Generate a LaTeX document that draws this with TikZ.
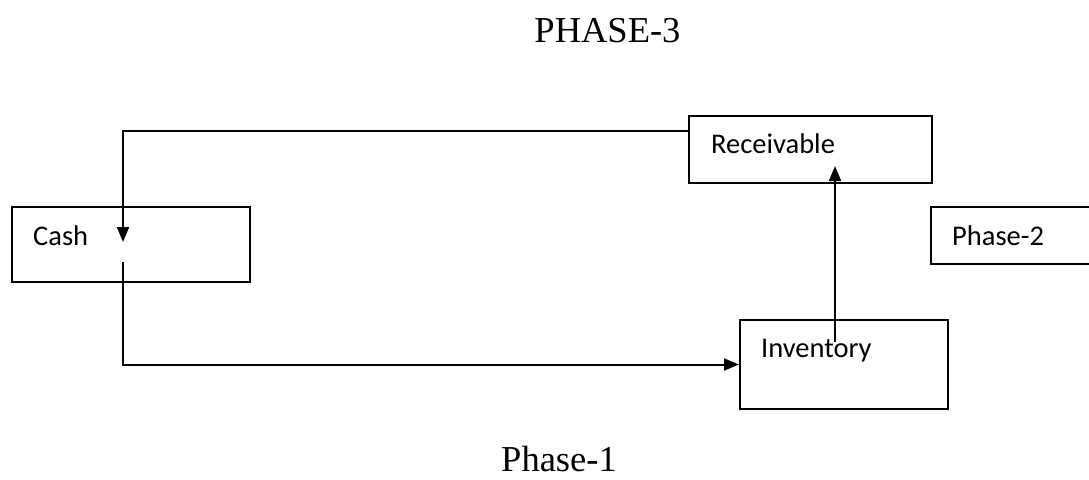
\documentclass[tikz,border=0pt]{standalone}
\usepackage{fontspec}
\setmainfont{Liberation Serif}
\newfontfamily\boxfont{Carlito}
\usetikzlibrary{arrows.meta}
\begin{document}
\begin{tikzpicture}[x=1pt,y=-1pt,
  boxshape/.style={draw, line width=2pt, rectangle, anchor=north west, inner sep=0pt},
  boxtext/.style={anchor=base west, inner sep=0pt, font=\boxfont\fontsize{28.5}{34}\selectfont},
  title/.style={anchor=base, inner sep=0pt, font=\fontsize{36.5}{42}\selectfont},
  conn/.style={line width=2pt},
  arr/.style={conn, -{Triangle[width=12pt,length=15pt]}}]
\clip (0,0) rectangle (1089,479);
\fill[white] (0,0) rectangle (1089,479);

% titles
\node[title] (t3) at (607.5,42) {PHASE-3};
\node[title] (t1) at (559,471) {Phase-1};

% boxes
\node[boxshape, minimum width=243pt, minimum height=67pt] (rec) at (688,115) {};
\node[boxshape, minimum width=238pt, minimum height=75pt] (cash) at (11,206) {};
\node[boxshape, minimum width=208pt, minimum height=89pt] (inv) at (739,319) {};
\node[boxshape, minimum width=200pt, minimum height=57pt] (ph2) at (930,206) {};

% box texts
\node[boxtext] (rect) at (711,153) {Receivable};
\node[boxtext] (casht) at (33,245) {Cash};
\node[boxtext] (invt) at (761,357) {Inventory};
\node[boxtext] (ph2t) at (952,245) {Phase-2};

% connector ends
\coordinate (topy) at (123,131);
\coordinate (cashin) at (123,242);
\coordinate (cashout) at (123,262);
\coordinate (invout) at (835,342);
\coordinate (recin) at (835,166);

% connectors
\draw[arr] (rec.west |- topy) -- (topy) -- (cashin);
\draw[arr] (cashout) |- (inv.west);
\draw[arr] (invout) -- (recin);
\end{tikzpicture}
\end{document}
